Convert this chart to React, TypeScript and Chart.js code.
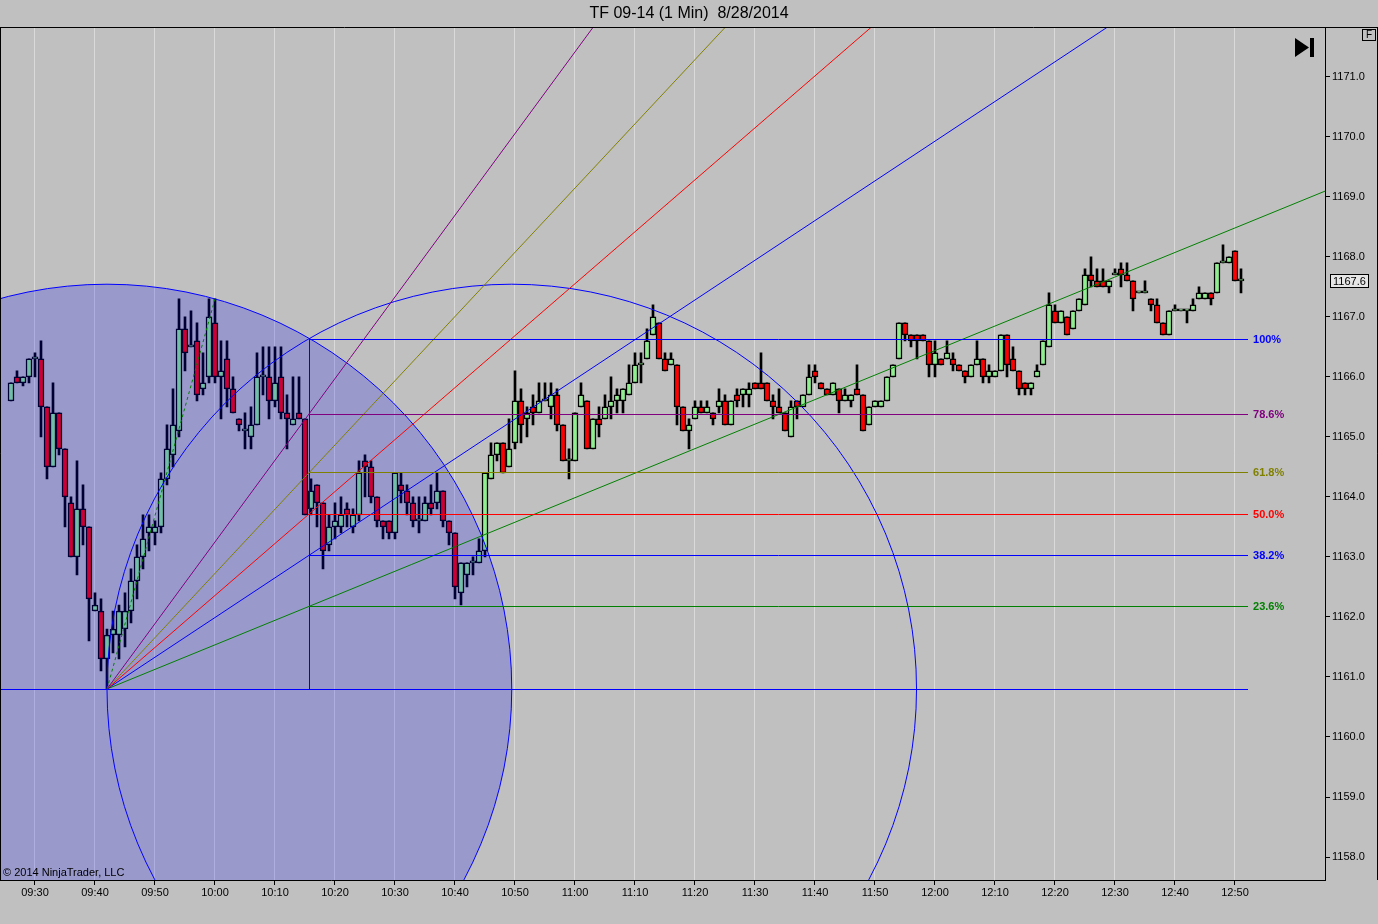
import React, { useEffect, useRef } from 'react';
import { Chart, registerables } from 'chart.js';

Chart.register(...registerables);

// ---- Data (1-minute bars, minutes relative to 09:30) ----
const firstBarMinute = -4; // 09:26
const opens = [
  1165.6, 1166.0, 1165.9, 1166.0, 1166.3, 1166.3, 1165.5, 1164.5, 1165.4, 1164.8,
  1163.9, 1163.0, 1163.8, 1163.5, 1162.1, 1162.1, 1161.3, 1161.7, 1161.7, 1161.8,
  1162.1, 1162.6, 1163.0, 1163.4, 1163.4, 1163.5, 1164.3, 1164.7, 1165.1, 1166.8,
  1166.5, 1166.6, 1165.8, 1166.0, 1166.9, 1166.0, 1166.3, 1165.8, 1165.3, 1165.1,
  1165.0, 1165.2, 1166.0, 1166.0, 1165.6, 1166.0, 1165.4, 1165.2, 1165.4, 1165.3,
  1163.8, 1164.2, 1163.9, 1163.2, 1163.5, 1163.5, 1163.8, 1163.5, 1163.7, 1164.6,
  1164.5, 1164.0, 1163.6, 1163.6, 1163.4, 1164.2, 1164.1, 1163.9, 1163.6, 1163.6,
  1163.9, 1163.9, 1164.1, 1163.6, 1163.4, 1162.4, 1162.7, 1162.9, 1162.9, 1163.1,
  1164.3, 1164.7, 1164.9, 1164.5, 1164.9, 1165.6, 1165.3, 1165.5, 1165.4, 1165.6,
  1165.5, 1165.7, 1165.2, 1164.6, 1164.6, 1165.5, 1165.6, 1164.8, 1165.3, 1165.3,
  1165.5, 1165.6, 1165.6, 1165.7, 1165.9, 1166.2, 1166.3, 1166.7, 1166.9, 1166.3,
  1166.2, 1166.2, 1165.5, 1165.1, 1165.3, 1165.5, 1165.4, 1165.4, 1165.5, 1165.6,
  1165.2, 1165.7, 1165.7, 1165.7, 1165.9, 1165.9, 1165.9, 1165.6, 1165.5, 1165.4,
  1165.0, 1165.6, 1165.5, 1165.7, 1166.1, 1165.9, 1165.8, 1165.7, 1165.8, 1165.6,
  1165.6, 1165.8, 1165.7, 1165.2, 1165.5, 1165.5, 1165.6, 1166.0, 1166.3, 1166.9,
  1166.7, 1166.7, 1166.7, 1166.6, 1166.2, 1166.3, 1166.3, 1166.3, 1166.2, 1166.1,
  1166.0, 1166.2, 1166.3, 1166.0, 1166.0, 1166.1, 1166.7, 1166.3, 1166.1, 1165.9,
  1165.8, 1166.0, 1166.2, 1166.5, 1167.1, 1166.9, 1167.0, 1166.8, 1167.1, 1167.2,
  1167.7, 1167.6, 1167.6, 1167.5, 1167.7, 1167.8, 1167.7, 1167.6, 1167.4, 1167.4,
  1167.3, 1167.2, 1166.9, 1166.7, 1167.1, 1167.1, 1167.1, 1167.1, 1167.3, 1167.3,
  1167.4, 1167.4, 1167.9, 1167.9, 1168.1, 1167.6,
];
const closes = [
  1165.9, 1165.9, 1166.0, 1166.3, 1166.3, 1165.5, 1164.5, 1165.4, 1164.8, 1164.0,
  1163.0, 1163.8, 1163.5, 1162.3, 1162.2, 1161.3, 1161.7, 1161.8, 1162.1, 1162.1,
  1162.6, 1163.0, 1163.3, 1163.5, 1163.5, 1164.3, 1164.8, 1165.2, 1166.8, 1166.4,
  1166.5, 1165.7, 1165.9, 1167.0, 1166.0, 1166.1, 1165.8, 1165.4, 1165.2, 1165.1,
  1165.2, 1166.0, 1166.0, 1165.6, 1165.9, 1165.4, 1165.3, 1165.3, 1165.3, 1163.7,
  1164.1, 1163.9, 1163.1, 1163.5, 1163.6, 1163.7, 1163.7, 1163.7, 1164.4, 1164.5,
  1164.0, 1163.6, 1163.5, 1163.4, 1164.4, 1164.1, 1163.9, 1163.6, 1163.6, 1163.9,
  1163.8, 1164.1, 1163.6, 1163.4, 1162.5, 1162.9, 1162.9, 1162.9, 1163.1, 1164.4,
  1164.7, 1164.9, 1164.4, 1164.8, 1165.6, 1165.2, 1165.4, 1165.4, 1165.6, 1165.6,
  1165.7, 1165.2, 1164.6, 1164.6, 1165.4, 1165.7, 1164.8, 1165.3, 1165.2, 1165.5,
  1165.6, 1165.7, 1165.8, 1165.9, 1166.2, 1166.2, 1166.6, 1167.0, 1166.3, 1166.1,
  1166.3, 1165.5, 1165.1, 1165.2, 1165.5, 1165.4, 1165.5, 1165.3, 1165.6, 1165.2,
  1165.6, 1165.6, 1165.8, 1165.8, 1165.8, 1165.8, 1165.6, 1165.5, 1165.4, 1165.1,
  1165.5, 1165.5, 1165.7, 1166.0, 1166.0, 1165.8, 1165.7, 1165.9, 1165.6, 1165.7,
  1165.7, 1165.7, 1165.1, 1165.5, 1165.6, 1165.6, 1166.0, 1166.2, 1166.9, 1166.7,
  1166.6, 1166.6, 1166.6, 1166.2, 1166.4, 1166.2, 1166.4, 1166.2, 1166.1, 1166.0,
  1166.2, 1166.3, 1166.0, 1166.1, 1166.1, 1166.7, 1166.2, 1166.1, 1165.8, 1165.8,
  1165.9, 1166.1, 1166.6, 1167.2, 1166.9, 1167.1, 1166.7, 1167.1, 1167.3, 1167.7,
  1167.6, 1167.5, 1167.5, 1167.6, 1167.7, 1167.7, 1167.6, 1167.3, 1167.4, 1167.4,
  1167.2, 1166.9, 1166.7, 1167.1, 1167.1, 1167.1, 1167.1, 1167.2, 1167.4, 1167.4,
  1167.3, 1167.9, 1167.9, 1168.0, 1167.6, 1167.6,
];
const highs = [
  1165.9, 1166.1, 1166.0, 1166.3, 1166.4, 1166.6, 1165.5, 1165.9, 1165.4, 1164.8,
  1164.0, 1164.6, 1164.2, 1163.5, 1162.4, 1162.3, 1161.8, 1162.1, 1162.2, 1162.4,
  1162.8, 1163.2, 1163.7, 1163.7, 1163.6, 1164.4, 1165.2, 1165.8, 1167.3, 1167.0,
  1167.1, 1166.9, 1166.4, 1167.3, 1167.3, 1166.6, 1166.6, 1166.0, 1165.3, 1165.4,
  1165.5, 1166.4, 1166.5, 1166.5, 1166.5, 1166.5, 1165.7, 1166.0, 1166.0, 1165.3,
  1164.3, 1164.2, 1163.9, 1163.7, 1163.9, 1164.0, 1163.9, 1163.8, 1164.6, 1164.7,
  1164.6, 1164.0, 1163.6, 1163.6, 1164.4, 1164.4, 1164.2, 1164.0, 1164.0, 1164.0,
  1164.2, 1164.4, 1164.1, 1163.6, 1163.4, 1162.9, 1162.9, 1163.0, 1163.3, 1164.4,
  1164.9, 1164.9, 1164.9, 1165.3, 1166.1, 1165.8, 1165.5, 1165.7, 1165.9, 1165.9,
  1165.9, 1165.8, 1165.2, 1164.8, 1165.4, 1165.9, 1165.6, 1165.3, 1165.5, 1165.7,
  1166.0, 1165.8, 1165.8, 1166.2, 1166.4, 1166.4, 1166.8, 1167.2, 1166.9, 1166.4,
  1166.4, 1166.2, 1165.5, 1165.3, 1165.6, 1165.6, 1165.6, 1165.4, 1165.8, 1165.7,
  1165.6, 1165.8, 1165.8, 1165.9, 1165.9, 1166.4, 1165.9, 1165.7, 1165.8, 1165.4,
  1165.6, 1165.6, 1165.7, 1166.2, 1166.2, 1165.9, 1165.8, 1165.9, 1165.8, 1165.8,
  1165.7, 1166.2, 1165.7, 1165.5, 1165.6, 1165.6, 1166.0, 1166.2, 1166.9, 1166.9,
  1166.7, 1166.7, 1166.7, 1166.6, 1166.6, 1166.3, 1166.6, 1166.4, 1166.2, 1166.1,
  1166.2, 1166.6, 1166.3, 1166.2, 1166.1, 1166.7, 1166.7, 1166.5, 1166.1, 1165.9,
  1165.9, 1166.2, 1166.6, 1167.4, 1167.2, 1167.1, 1167.0, 1167.1, 1167.3, 1167.8,
  1168.0, 1167.8, 1167.8, 1167.6, 1167.8, 1167.9, 1167.9, 1167.6, 1167.4, 1167.6,
  1167.3, 1167.3, 1166.9, 1167.1, 1167.2, 1167.1, 1167.1, 1167.3, 1167.5, 1167.4,
  1167.4, 1167.9, 1168.2, 1168.0, 1168.1, 1167.8,
];
const lows = [
  1165.6, 1165.9, 1165.85, 1165.9, 1166.0, 1165.0, 1164.3, 1164.5, 1164.7, 1163.5,
  1163.0, 1162.7, 1163.2, 1161.6, 1162.1, 1161.1, 1160.8, 1161.4, 1161.3, 1161.5,
  1161.9, 1162.3, 1162.8, 1163.1, 1163.2, 1163.4, 1164.2, 1164.5, 1165.0, 1166.1,
  1166.5, 1165.6, 1165.7, 1165.9, 1165.9, 1165.3, 1165.5, 1165.4, 1165.1, 1164.8,
  1164.8, 1165.2, 1165.7, 1165.3, 1165.5, 1165.3, 1164.8, 1165.2, 1165.3, 1163.7,
  1163.7, 1163.5, 1162.8, 1163.1, 1163.3, 1163.4, 1163.5, 1163.4, 1163.6, 1164.0,
  1163.9, 1163.5, 1163.3, 1163.3, 1163.3, 1163.9, 1163.7, 1163.5, 1163.4, 1163.6,
  1163.7, 1163.8, 1163.5, 1163.2, 1162.3, 1162.2, 1162.5, 1162.7, 1162.9, 1163.0,
  1164.3, 1164.6, 1164.4, 1164.5, 1164.8, 1164.9, 1165.0, 1165.2, 1165.4, 1165.6,
  1165.3, 1165.1, 1164.6, 1164.3, 1164.6, 1165.5, 1164.8, 1164.8, 1165.0, 1165.3,
  1165.3, 1165.4, 1165.4, 1165.7, 1165.9, 1165.9, 1166.3, 1166.7, 1166.3, 1166.1,
  1166.2, 1165.2, 1165.1, 1164.8, 1165.3, 1165.4, 1165.4, 1165.2, 1165.4, 1165.2,
  1165.2, 1165.5, 1165.5, 1165.5, 1165.8, 1165.8, 1165.6, 1165.3, 1165.4, 1165.1,
  1165.0, 1165.3, 1165.5, 1165.7, 1165.9, 1165.8, 1165.7, 1165.7, 1165.4, 1165.6,
  1165.5, 1165.7, 1165.1, 1165.2, 1165.5, 1165.5, 1165.6, 1166.0, 1166.3, 1166.6,
  1166.5, 1166.3, 1166.6, 1166.0, 1166.0, 1166.2, 1166.3, 1166.1, 1166.1, 1165.9,
  1166.0, 1166.2, 1165.9, 1165.9, 1166.0, 1166.1, 1166.0, 1166.1, 1165.7, 1165.7,
  1165.7, 1166.0, 1166.2, 1166.5, 1166.9, 1166.9, 1166.7, 1166.8, 1167.1, 1167.2,
  1167.5, 1167.5, 1167.5, 1167.4, 1167.7, 1167.5, 1167.6, 1167.1, 1167.4, 1167.4,
  1167.1, 1166.9, 1166.7, 1166.7, 1167.1, 1167.1, 1166.9, 1167.1, 1167.3, 1167.3,
  1167.2, 1167.4, 1167.9, 1167.9, 1167.6, 1167.4,
];

// ---- Axes ----
const timeTickMinutes = [0, 10, 20, 30, 40, 50, 60, 70, 80, 90, 100, 110, 120, 130, 140, 150, 160, 170, 180, 190, 200];
const timeTickLabels = ['09:30', '09:40', '09:50', '10:00', '10:10', '10:20', '10:30', '10:40', '10:50', '11:00', '11:10', '11:20', '11:30', '11:40', '11:50', '12:00', '12:10', '12:20', '12:30', '12:40', '12:50'];
const priceTicks = [1158, 1159, 1160, 1161, 1162, 1163, 1164, 1165, 1166, 1167, 1168, 1169, 1170, 1171];
const xRange = [-5.833, 215];
const yRange = [1157.617, 1171.817];
const lastPrice = 1167.6;

// ---- Drawing tools (anchors in minutes / price) ----
const fibLow = { t: 12, p: 1160.8 };
const fibHigh = { t: 45.67, p: 1166.63 };
const fibLineEndMinute = 202.17;
const circleAnchor = { t: 30, p: 1167.3 };
const fibLevels = [0.236, 0.382, 0.5, 0.618, 0.786, 1.0];
const fibLabels = ['23.6%', '38.2%', '50.0%', '61.8%', '78.6%', '100%'];
const fibColors = ['#008000', '#0000ff', '#ff0000', '#808000', '#800080', '#0000ff'];

const TITLE = 'TF 09-14 (1 Min)  8/28/2014';
const FONT = "'Liberation Sans', Arial, sans-serif";

const crisp = (v: number) => Math.floor(v + 0.05) + 0.5;

const overlayPlugin = {
  id: 'ntOverlay',
  beforeDraw(chart: any) {
    const ctx = chart.ctx;
    ctx.save();
    ctx.fillStyle = '#c0c0c0';
    ctx.fillRect(0, 0, chart.width, chart.height);
    ctx.restore();
  },
  afterDatasetsDraw(chart: any) {
    const ctx = chart.ctx;
    const xs = chart.scales.x;
    const ys = chart.scales.y;
    const px = (t: number) => xs.getPixelForValue(t);
    const py = (p: number) => ys.getPixelForValue(p);
    const { left, top, right, bottom } = chart.chartArea;
    ctx.save();
    ctx.beginPath();
    ctx.rect(left, top, right - left, bottom - top);
    ctx.clip();

    const ox = px(fibLow.t);
    const oy = py(fibLow.p);
    const ax = px(circleAnchor.t);
    const ay = py(circleAnchor.p);
    const r = Math.hypot(ax - ox, ay - oy);

    // Fibonacci circle (filled)
    ctx.beginPath();
    ctx.arc(ox, oy, r, 0, Math.PI * 2);
    ctx.fillStyle = 'rgba(0,0,255,0.2)';
    ctx.fill();
    ctx.lineWidth = 1;
    ctx.strokeStyle = '#0000ff';
    ctx.stroke();
    // second circle
    ctx.beginPath();
    ctx.arc(ox + r, oy, r, 0, Math.PI * 2);
    ctx.stroke();

    // anchor dashed line
    ctx.save();
    ctx.setLineDash([3, 3]);
    ctx.strokeStyle = '#008000';
    ctx.beginPath();
    ctx.moveTo(ox, oy);
    ctx.lineTo(ax, ay);
    ctx.stroke();
    ctx.restore();

    const hx = px(fibHigh.t);
    const ex = px(fibLineEndMinute);
    const range = fibHigh.p - fibLow.p;

    // 0% line
    ctx.strokeStyle = '#0000ff';
    ctx.beginPath();
    ctx.moveTo(left, crisp(oy));
    ctx.lineTo(ex, crisp(oy));
    ctx.stroke();
    // vertical anchor
    ctx.beginPath();
    ctx.moveTo(Math.round(hx) + 0.5, crisp(py(fibHigh.p)));
    ctx.lineTo(Math.round(hx) + 0.5, crisp(oy));
    ctx.stroke();

    fibLevels.forEach((f, i) => {
      const ly = py(fibLow.p + f * range);
      ctx.strokeStyle = fibColors[i];
      ctx.beginPath();
      ctx.moveTo(hx, crisp(ly));
      ctx.lineTo(ex, crisp(ly));
      ctx.stroke();
      if (f < 1) {
        const dx = hx - ox;
        const dy = ly - oy;
        ctx.beginPath();
        ctx.moveTo(ox, oy);
        ctx.lineTo(ox + dx * 20, oy + dy * 20);
        ctx.stroke();
      }
    });
    ctx.restore();

    // fib labels
    ctx.save();
    ctx.font = `bold 11px ${FONT}`;
    ctx.textBaseline = 'middle';
    ctx.textAlign = 'left';
    fibLevels.forEach((f, i) => {
      const ly = py(fibLow.p + f * range);
      ctx.fillStyle = fibColors[i];
      ctx.fillText(fibLabels[i], ex + 5, crisp(ly));
    });
    ctx.restore();
  },
  afterDraw(chart: any) {
    const ctx = chart.ctx;
    const { left, top, right, bottom } = chart.chartArea;
    const ys = chart.scales.y;
    ctx.save();
    ctx.strokeStyle = '#000';
    ctx.lineWidth = 1;
    ctx.beginPath();
    ctx.moveTo(0, Math.round(top) - 0.5);
    ctx.lineTo(chart.width, Math.round(top) - 0.5);
    ctx.moveTo(left + 0.5, top);
    ctx.lineTo(left + 0.5, bottom);
    ctx.moveTo(chart.width - 0.5, top);
    ctx.lineTo(chart.width - 0.5, bottom);
    ctx.stroke();

    // copyright
    ctx.fillStyle = '#000';
    ctx.font = `11px ${FONT}`;
    ctx.textBaseline = 'alphabetic';
    ctx.fillText('\u00A9 2014 NinjaTrader, LLC', 3, bottom - 4);

    // go-to-end icon
    ctx.beginPath();
    ctx.moveTo(1295, 38);
    ctx.lineTo(1295, 57);
    ctx.lineTo(1309, 47.5);
    ctx.closePath();
    ctx.fill();
    ctx.fillRect(1310, 38, 4, 19);

    // F box
    ctx.strokeRect(1362.5, 29.5, 13, 11);
    ctx.font = `10px ${FONT}`;
    ctx.textAlign = 'center';
    ctx.textBaseline = 'middle';
    ctx.fillText('F', 1369, 35.5);

    // last price marker
    const ly = Math.round(ys.getPixelForValue(lastPrice));
    ctx.fillStyle = '#e6e6e6';
    ctx.fillRect(right + 5, ly - 7, 38, 14);
    ctx.strokeRect(right + 5.5, ly - 6.5, 38, 13);
    ctx.fillStyle = '#000';
    ctx.textAlign = 'left';
    ctx.font = `11px ${FONT}`;
    ctx.fillText(lastPrice.toFixed(1), right + 8, ly + 0.5);
    ctx.restore();
  },
};

export default function App() {
  const ref = useRef<HTMLCanvasElement | null>(null);
  useEffect(() => {
    if (!ref.current) return;
    Chart.defaults.font.family = FONT;
    const minutes = opens.map((_, i) => firstBarMinute + i);
    const bodyData = minutes.map((m, i) => ({ x: m, y: [opens[i], closes[i]] }));
    const wickData = minutes.map((m, i) => ({ x: m, y: [lows[i], highs[i]] }));
    const bodyColors = minutes.map((_, i) => (closes[i] >= opens[i] ? '#90ee90' : '#ff0000'));

    const chart = new Chart(ref.current, {
      type: 'bar',
      data: {
        datasets: [
          {
            label: 'Body',
            data: bodyData as any,
            backgroundColor: bodyColors,
            borderColor: '#000000',
            borderWidth: 1.5,
            borderSkipped: false,
            barThickness: 6,
            minBarLength: 2,
            grouped: false,
            order: 0,
          } as any,
          {
            label: 'Wick',
            data: wickData as any,
            backgroundColor: '#000000',
            borderWidth: 0,
            barThickness: 2,
            grouped: false,
            order: 1,
          } as any,
        ],
      },
      options: {
        responsive: false,
        devicePixelRatio: 1,
        animation: false,
        events: [],
        layout: { padding: 0 },
        plugins: {
          legend: { display: false },
          tooltip: { enabled: false },
          title: {
            display: true,
            text: TITLE,
            color: '#000',
            font: { size: 16, weight: 'normal', family: FONT },
            padding: { top: 4, bottom: 4.6 },
          },
        },
        scales: {
          x: {
            type: 'linear',
            position: 'bottom',
            min: xRange[0],
            max: xRange[1],
            offset: false,
            afterBuildTicks: (s: any) => {
              s.ticks = timeTickMinutes.map((v) => ({ value: v }));
            },
            afterFit: (s: any) => {
              s.height = 44;
            },
            ticks: {
              callback: (_v: any, i: number) => timeTickLabels[i],
              color: '#000',
              font: { size: 11, family: FONT },
              maxRotation: 0,
              autoSkip: false,
              padding: 1,
            },
            grid: { color: '#dadada', tickColor: '#000', tickLength: 5, offset: false, drawOnChartArea: true },
            border: { color: '#000', width: 1 },
          },
          y: {
            type: 'linear',
            position: 'right',
            min: yRange[0],
            max: yRange[1],
            beginAtZero: false,
            afterBuildTicks: (s: any) => {
              s.ticks = priceTicks.map((v) => ({ value: v }));
            },
            afterFit: (s: any) => {
              s.width = 53;
            },
            ticks: {
              callback: (v: any) => Number(v).toFixed(1),
              color: '#000',
              font: { size: 11, family: FONT },
              padding: 2,
            },
            grid: { drawOnChartArea: false, tickColor: '#000', tickLength: 5 },
            border: { color: '#000', width: 1 },
          },
        },
      } as any,
      plugins: [overlayPlugin],
    });
    return () => chart.destroy();
  }, []);
  return (
    <div style={{ position: 'fixed', left: 0, top: 0, width: 1378, height: 924 }}>
      <canvas ref={ref} width={1378} height={924} style={{ display: 'block' }} />
    </div>
  );
}
